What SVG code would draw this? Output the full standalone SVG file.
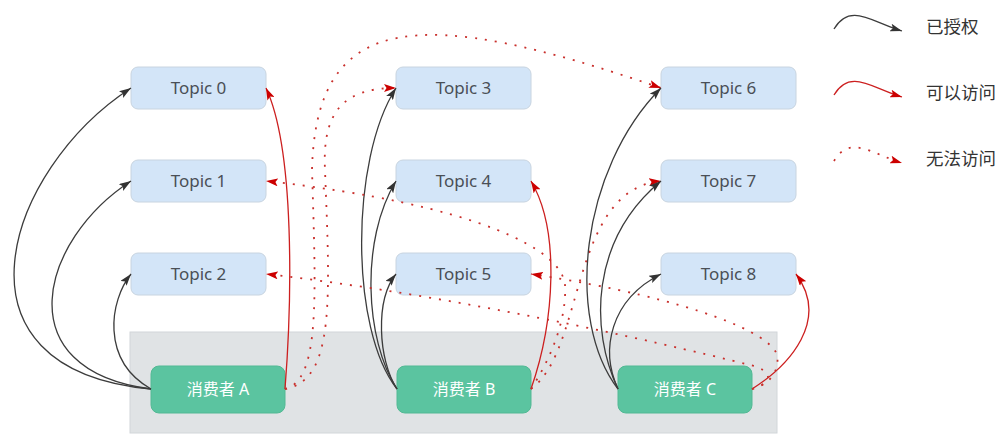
<svg xmlns="http://www.w3.org/2000/svg" width="1003" height="434" viewBox="0 0 1003 434">
  <style>
    .topic rect { fill: #d3e5f8; stroke: #c8d4e0; stroke-width: 1; }
    .topic text { font-family: "Noto Sans", "Open Sans", sans-serif; font-size: 17px; fill: #4a4f56; text-anchor: middle; }
    .consumer rect { fill: #5bc4a0; stroke: #52b994; stroke-width: 1; }
    .consumer text { font-family: "Noto Sans", "Noto Sans CJK SC", sans-serif; font-size: 16px; fill: #ffffff; text-anchor: middle; }
    .legend text { font-family: "Noto Sans", "Noto Sans CJK SC", sans-serif; font-size: 17.5px; fill: #333333; }
    .auth { fill: none; stroke: #3c3c3c; stroke-width: 1.3; marker-end: url(#arrowBlack); }
    .ok { fill: none; stroke: #cc1f1f; stroke-width: 1.3; marker-end: url(#arrowRed); }
    .no { fill: none; stroke: #c9302c; stroke-width: 1.8; stroke-dasharray: 2 8; marker-end: url(#arrowRed); }
  </style>
  <defs>
    <marker id="arrowBlack" viewBox="0 0 12 8" refX="12" refY="4" markerWidth="12" markerHeight="8" markerUnits="userSpaceOnUse" orient="auto">
      <path d="M0,0 L12,4 L0,8 L2.5,4 z" fill="#333333" stroke="none"/>
    </marker>
    <marker id="arrowRed" viewBox="0 0 12 8" refX="12" refY="4" markerWidth="12" markerHeight="8" markerUnits="userSpaceOnUse" orient="auto">
      <path d="M0,0 L12,4 L0,8 L2.5,4 z" fill="#cc0000" stroke="none"/>
    </marker>
  </defs>

  <rect id="consumer-panel" x="130" y="332" width="647" height="101" fill="#e0e3e5" stroke="#d2d6d9" stroke-width="1"/>

  <g id="topic-0" class="topic"><rect x="131" y="67" width="135" height="42" rx="7"/><text x="198.5" y="94">Topic 0</text></g>
  <g id="topic-1" class="topic"><rect x="131" y="160" width="135" height="42" rx="7"/><text x="198.5" y="187">Topic 1</text></g>
  <g id="topic-2" class="topic"><rect x="131" y="253" width="135" height="42" rx="7"/><text x="198.5" y="280">Topic 2</text></g>
  <g id="topic-3" class="topic"><rect x="396" y="67" width="135" height="42" rx="7"/><text x="463.5" y="94">Topic 3</text></g>
  <g id="topic-4" class="topic"><rect x="396" y="160" width="135" height="42" rx="7"/><text x="463.5" y="187">Topic 4</text></g>
  <g id="topic-5" class="topic"><rect x="396" y="253" width="135" height="42" rx="7"/><text x="463.5" y="280">Topic 5</text></g>
  <g id="topic-6" class="topic"><rect x="661" y="67" width="135" height="42" rx="7"/><text x="728.5" y="94">Topic 6</text></g>
  <g id="topic-7" class="topic"><rect x="661" y="160" width="135" height="42" rx="7"/><text x="728.5" y="187">Topic 7</text></g>
  <g id="topic-8" class="topic"><rect x="661" y="253" width="135" height="42" rx="7"/><text x="728.5" y="280">Topic 8</text></g>

  <g id="consumer-a" class="consumer"><rect x="151" y="366" width="134" height="47" rx="8"/><text x="218" y="395">消费者 A</text></g>
  <g id="consumer-b" class="consumer"><rect x="397" y="366" width="134" height="47" rx="8"/><text x="464" y="395">消费者 B</text></g>
  <g id="consumer-c" class="consumer"><rect x="618" y="366" width="134" height="47" rx="8"/><text x="685" y="395">消费者 C</text></g>

  <g id="connectors">
    <path class="auth" d="M151,389 C -60,370 5,170 131,88"/>
    <path class="auth" d="M151,389 C 5,370 40,240 131,181"/>
    <path class="auth" d="M151,389 C 100,360 110,300 131,274"/>
    <path class="ok" d="M285,389 C 292,300 295,150 266,88"/>
    <path class="no" d="M285,389 C 320,380 316,300 312,170 C 316,10 420,5 661,88"/>
    <path class="no" d="M285,389 C 335,380 330,300 325,170 C 322,110 345,88 396,88"/>

    <path class="auth" d="M397,389 C 350,330 350,160 396,88"/>
    <path class="auth" d="M397,389 C 365,340 360,240 396,181"/>
    <path class="auth" d="M397,389 C 378,360 375,300 396,274"/>
    <path class="ok" d="M531,389 C 555,320 560,230 531,181"/>
    <path class="no" d="M531,389 C 585,350 570,190 661,181"/>
    <path class="no" d="M531,389 C 550,360 567,320 565,285 C 562,250 480,205 266,181"/>

    <path class="auth" d="M618,389 C 565,320 580,170 661,88"/>
    <path class="auth" d="M618,389 C 590,330 590,240 661,181"/>
    <path class="auth" d="M618,389 C 600,350 610,300 661,274"/>
    <path class="ok" d="M752,389 C 790,365 830,320 796,274"/>
    <path class="no" d="M752,389 C 770,385 780,370 777,355 C 772,335 700,300 531,274"/>
    <path class="no" d="M752,389 C 775,382 772,370 750,365 C 650,340 450,295 266,274"/>
  </g>

  <g id="legend" class="legend">
    <path class="auth" d="M834,29 C 850,2 872,22 902,31"/>
    <text x="926" y="33">已授权</text>
    <path class="ok" d="M834,95 C 850,68 872,88 902,97"/>
    <text x="926" y="99">可以访问</text>
    <path class="no" d="M834,161 C 850,134 872,154 902,163"/>
    <text x="926" y="165">无法访问</text>
  </g>
</svg>
